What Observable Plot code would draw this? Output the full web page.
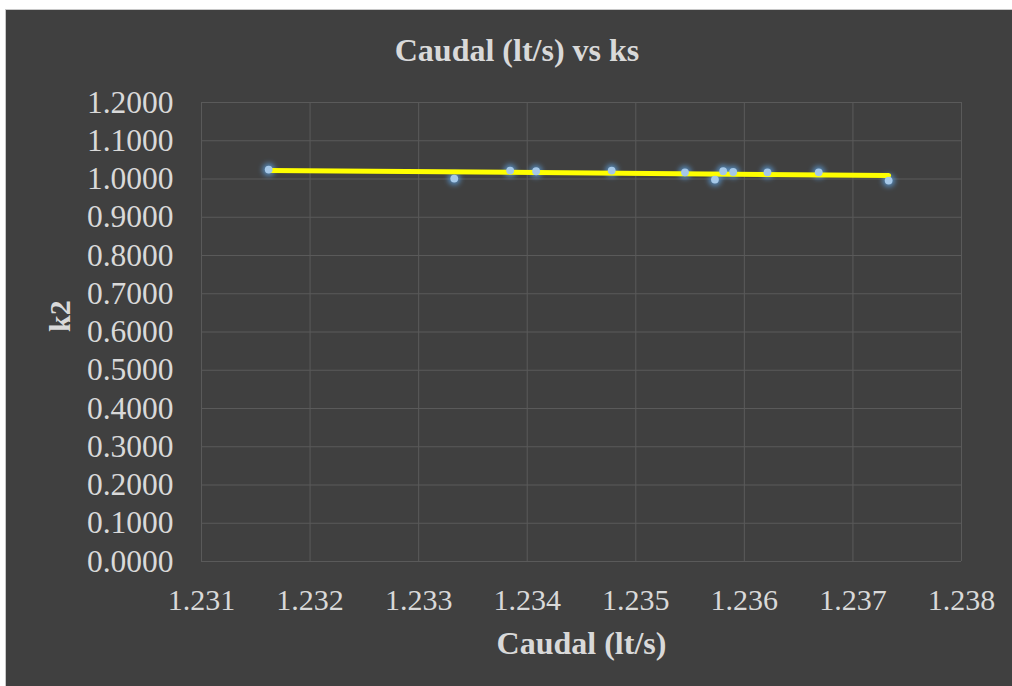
<!DOCTYPE html>
<html>
<head>
<meta charset="utf-8">
<script src="https://cdn.jsdelivr.net/npm/d3@7"></script>
<script src="https://cdn.jsdelivr.net/npm/@observablehq/plot@0.6"></script>
<style>
  html, body { margin: 0; padding: 0; background: #ffffff; width: 1012px; height: 686px; overflow: hidden; }
  #bg { position: absolute; left: 5px; top: 9px; width: 1040px; height: 700px; background: #404040; border: 1px solid #c8c8c8; box-sizing: border-box; }
  #plot { position: absolute; left: 0; top: 0; }
</style>
</head>
<body>
<div id="bg"></div>
<div id="plot"></div>
<script>
const caudal = [1.231619, 1.233328, 1.233843, 1.234082, 1.234778, 1.235453, 1.235729, 1.235805, 1.235897, 1.236213, 1.236685, 1.237329];
const k2 = [1.0246, 1.0010, 1.0220, 1.0202, 1.0220, 1.0175, 0.9984, 1.0202, 1.0183, 1.0175, 1.0175, 0.9958];
const xTicks = [1.231, 1.232, 1.233, 1.234, 1.235, 1.236, 1.237, 1.238];
const yTicks = [0, 0.1, 0.2, 0.3, 0.4, 0.5, 0.6, 0.7, 0.8, 0.9, 1.0, 1.1, 1.2];
const titleText = "Caudal (lt/s) vs ks";
const xLabel = "Caudal (lt/s)";
const yLabel = "k2";

const data = caudal.map((c, i) => ({caudal: c, k2: k2[i]}));
const font = "Liberation Serif, Times New Roman, serif";
const txt = "#d9d9d9";
const grid = "#5a5a5a";

const chart = Plot.plot({
  width: 1012,
  height: 686,
  marginLeft: 201,
  marginRight: 51,
  marginTop: 102,
  marginBottom: 125,
  style: {background: "transparent", fontFamily: font, color: txt},
  x: {domain: [1.231, 1.238]},
  y: {domain: [0, 1.2]},
  marks: [
    Plot.gridX(xTicks, {stroke: grid, strokeOpacity: 1, strokeWidth: 1}),
    Plot.gridY(yTicks, {stroke: grid, strokeOpacity: 1, strokeWidth: 1}),
    Plot.axisX(xTicks, {tickSize: 0, tickPadding: 27, fontSize: 30, fontFamily: font, fill: txt, tickFormat: d3.format(".3f"), label: null}),
    Plot.axisY(yTicks, {tickSize: 0, tickPadding: 28, fontSize: 31.5, fontFamily: font, fill: txt, tickFormat: d3.format(".4f"), label: null}),
    Plot.dot(data, {x: "caudal", y: "k2", r: 6.5, fill: "#5b9bd5", fillOpacity: 0.75, stroke: "none"}),
    Plot.linearRegressionY(data, {x: "caudal", y: "k2", stroke: "#ffff00", strokeWidth: 5, ci: 0}),
    Plot.dot(data, {x: "caudal", y: "k2", r: 3.9, fill: "#a5c8e8", stroke: "none"}),
    Plot.text([titleText], {frameAnchor: "top", dx: -64.5, dy: -41.5, lineAnchor: "bottom", fontSize: 32, fontWeight: "bold", fontFamily: font, fill: txt}),
    Plot.text([xLabel], {frameAnchor: "bottom", dy: 92, lineAnchor: "bottom", fontSize: 32, fontWeight: "bold", fontFamily: font, fill: txt}),
    Plot.text([yLabel], {frameAnchor: "left", dx: -141, rotate: -90, fontSize: 30, fontWeight: "bold", fontFamily: font, fill: txt})
  ]
});

// soft glow behind the markers
const svg = d3.select(chart);
svg.insert("defs", ":first-child")
  .append("filter").attr("id", "glow").attr("x", "-100%").attr("y", "-100%").attr("width", "300%").attr("height", "300%")
  .append("feGaussianBlur").attr("stdDeviation", 2.5);
svg.selectAll('g[aria-label="dot"]').filter((d, i) => i === 0).attr("filter", "url(#glow)");

document.getElementById("plot").appendChild(chart);
</script>
</body>
</html>
